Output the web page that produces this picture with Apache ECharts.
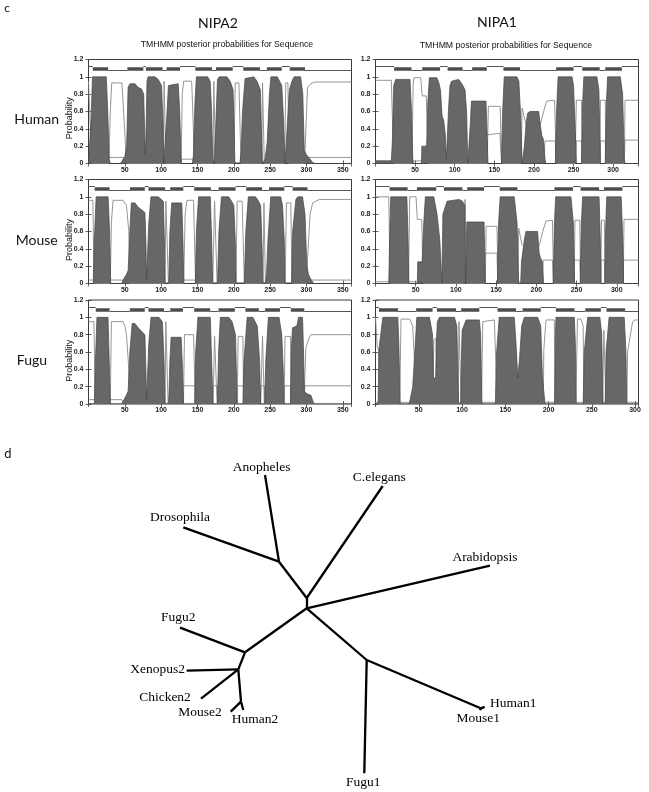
<!DOCTYPE html>
<html><head><meta charset="utf-8">
<script src="https://cdn.jsdelivr.net/npm/echarts@6/dist/echarts.min.js"></script>
<style>html,body{margin:0;padding:0;background:#fff}#c{width:649px;height:792px}</style>
</head><body><div id="c"></div>
<script>
// ---------- text ----------
const columnTitles = ['NIPA2', 'NIPA1'];
const rowLabels = ['Human', 'Mouse', 'Fugu'];
const subtitleText = 'TMHMM posterior probabilities for Sequence';
const yAxisName = 'Probability';
const panelLetters = ['c', 'd'];

// ---------- sequence lengths (x-axis extent) ----------
const nipa2Lengths = [362, 362, 362];   // human, mouse, fugu
const nipa1Lengths = [332, 327, 304];

// ---------- NIPA2 human ----------
const humanNipa2Tm = [[0,0],[2.5,0],[3.5,0.5],[5.5,1.0],[24.5,1.0],[26.5,0.6],[28.5,0.05],[30,0],
 [44,0],[50,0.08],[52.5,0.2],[54.5,0.88],[57,0.92],[64,0.92],[68,0.88],[73,0.86],[76,0.8],[77.5,0.3],[78.3,0.1],
 [79,0.3],[80.5,0.95],[82,1.0],[91.5,1.0],[96,0.97],[100.5,0.9],[102.5,0.5],[103.5,0],
 [106,0],[107.5,0.5],[110,0.9],[111,0.92],[123.5,0.92],[125.5,0.6],[127.5,0.03],[128.5,0],
 [143,0],[144.5,0.1],[146.5,0.7],[148.5,1.0],[164,1.0],[167.5,0.95],[169.5,0.6],[171,0.05],[172.5,0],
 [173.5,0],[175,0.4],[177.5,0.97],[180,1.0],[190.5,1.0],[195,0.95],[199,0.85],[200.5,0.4],[201.5,0],
 [208.5,0],[210,0.15],[212,0.6],[215.5,0.98],[217,1.0],[227.5,1.0],[232,0.95],[236.5,0.85],[238,0.4],[239.5,0],
 [240.5,0],[243,0.05],[246,0.25],[249,0.8],[251,1.0],[260,1.0],[263,0.95],[266,0.9],[268.5,0.5],[270.5,0],
 [272.5,0],[274,0.5],[276.5,0.85],[280,0.95],[283,1.0],[292,1.0],[295,0.8],[297,0.15],[300,0.1],[304,0.06],[309,0.01],[312,0],[362,0]];
const humanNipa2Upper = [[0,0.95],[2.5,0.95],[4,0.1],[5,0],[28,0],[30,0.6],[32,0.93],[46,0.93],[49,0.5],[52,0.05],[53,0],
 [103,0],[104,0.95],[105.5,0.95],[106.5,0],[127.5,0],[129,0.8],[131,0.95],[142,0.95],[144,0.5],[145.5,0],
 [171.5,0],[172.5,0.95],[174,0.95],[175,0],[200,0],[202,0.93],[207,0.93],[209,0.3],[210,0],
 [238.5,0],[239.5,0.93],[241,0.93],[242,0],[270,0],[271.5,0.93],[274.5,0.93],[276,0],
 [297.5,0],[298.5,0.25],[301.5,0.88],[306,0.92],[311,0.94],[362,0.94]];
const humanNipa2Lower = [[0,0.07],[49,0.07],[51,0.02],[127,0.02],[129,0.05],[143,0.05],[145,0.01],[298,0.01],[300,0.07],[362,0.07]];
const humanNipa2Helices = [[6,27],[53.5,75.5],[79,102],[107.5,126],[147,170],[175.5,198.5],[213,236],[245.5,266],[277,298]];

// ---------- NIPA2 mouse ----------
const mouseNipa2Tm = [[0,0],[6.5,0],[8,0.5],[10.5,1.0],[27,1.0],[29,0.6],[30.6,0],
 [46,0],[48,0.05],[52,0.1],[54.6,0.15],[56.9,0.6],[59,0.93],[64,0.93],[68.4,0.88],[73,0.85],[77.6,0.82],[79,0.5],[80,0.05],
 [81.5,0.05],[83,0.7],[86,1.0],[96,1.0],[103,0.95],[104.5,0.5],[105.4,0],
 [110.5,0],[112,0.6],[114.6,0.93],[128.4,0.93],[130,0.5],[131.2,0],
 [147,0],[148.5,0.6],[151.5,1.0],[167.7,1.0],[169.5,0.5],[171,0],
 [177.5,0],[179.5,0.6],[183,1.0],[193,1.0],[197,0.95],[200,0.9],[202,0.5],[203.2,0],
 [214.5,0],[216.5,0.6],[220,1.0],[230,1.0],[234,0.95],[237,0.9],[239,0.4],[240.2,0],
 [243.5,0],[245,0.1],[247,0.5],[250.8,1.0],[264.6,1.0],[267,0.9],[269.5,0.5],[270.6,0],
 [279.5,0],[281,0.6],[285.4,0.97],[288,1.0],[294.6,1.0],[298,0.8],[300.5,0.2],[303,0.1],[306,0.05],[310,0],[362,0]];
const mouseNipa2Upper = [[0,0.96],[6,0.96],[7.5,0.1],[8.5,0],[30,0],[31.5,0.7],[33.8,0.96],[47.6,0.96],[52.3,0.9],[55.5,0.6],[57,0],
 [105.4,0],[106.5,0.95],[108.5,0.95],[110,0],[131,0],[133,0.8],[135.4,0.96],[144.6,0.96],[146.5,0.3],[147.5,0],
 [171,0],[173.5,0.95],[175.5,0.95],[177,0],[203,0],[204.6,0.95],[211.5,0.95],[213.5,0.3],[214.5,0],
 [240.2,0],[241.5,0.93],[242.5,0.93],[243.5,0],[270.6,0],[272.5,0.93],[278.5,0.93],[280,0],
 [300.5,0],[301.6,0.3],[305,0.8],[308.5,0.93],[317.7,0.97],[362,0.97]];
const mouseNipa2Lower = [[0,0.04],[46,0.04],[48,0.01],[111,0.01],[112,0.04],[146,0.04],[148,0.01],[302,0.01],[304,0.04],[362,0.04]];
const mouseNipa2Helices = [[8.5,29],[57,77.5],[82.5,105.5],[112.5,130.5],[145.5,168.5],[179,202.5],[217,239],[248.5,269.5],[281,301.5]];

// ---------- NIPA2 fugu ----------
const fuguNipa2Tm = [[0,0],[8,0],[9.5,0.5],[11.6,1.0],[26.9,1.0],[28.5,0.5],[30.1,0],
 [46,0],[47.6,0.03],[52,0.1],[54.6,0.15],[56.9,0.6],[60.1,0.93],[63.8,0.93],[68.4,0.88],[74,0.83],[77.6,0.8],[79,0.4],[80,0.05],
 [81.5,0.05],[83,0.7],[86,1.0],[97,1.0],[101.7,0.95],[104,0.5],[105.4,0],
 [110.5,0],[112,0.5],[113.7,0.77],[127.5,0.77],[129.5,0.4],[130.7,0],
 [146,0],[147.5,0.6],[150.6,1.0],[167.7,1.0],[169.5,0.5],[171.4,0],
 [177.5,0],[179,0.6],[181.5,1.0],[193.1,1.0],[197.7,0.95],[202.3,0.8],[203.5,0.4],[204.6,0],
 [212.5,0],[214,0.5],[218.4,1.0],[226.3,1.0],[232.3,0.9],[235.5,0.5],[236.9,0],
 [242.5,0],[244,0.5],[247.6,1.0],[262.3,1.0],[266,0.8],[268,0.4],[269.2,0],
 [278,0],[279,0.6],[280.8,0.88],[286.8,0.9],[289.1,1.0],[294.6,1.0],[296,0.6],[297,0.15],[300,0.12],[306.2,0.1],[309,0.03],[310.8,0],[362,0]];
const fuguNipa2Upper = [[0,0.95],[7.5,0.95],[9,0.1],[10,0],[30,0],[31.5,0.95],[47.6,0.95],[50,0.9],[52.3,0.8],[55.5,0.4],[57,0],
 [105.4,0],[106.5,0.95],[108,0.95],[109.5,0],[130.7,0],[132.1,0.8],[144.6,0.8],[146.5,0.2],[147.5,0],
 [171.4,0],[173.5,0.78],[175.5,0.78],[177,0],[204.6,0],[206,0.78],[212.5,0.78],[213.5,0],
 [236.9,0],[239.5,0.78],[241,0.78],[242,0],[269.2,0],[270.5,0.78],[278,0.78],[279,0],
 [297,0.15],[299.3,0.65],[303,0.75],[306.2,0.8],[362,0.8]];
const fuguNipa2Lower = [[0,0.05],[46,0.05],[48,0.01],[110,0.01],[112.3,0.21],[146.9,0.21],[148,0.01],[170,0.01],[171.4,0.21],[177.5,0.21],[178.5,0.01],
 [204,0.01],[205,0.21],[213,0.21],[214,0.01],[236.5,0.01],[237.5,0.21],[242,0.21],[243,0.01],[269,0.01],[270,0.21],[278,0.21],[279,0.01],[296,0.01],[298,0.21],[362,0.21]];
const fuguNipa2Helices = [[10,29],[57,77.5],[82.5,104],[112.5,130],[145.5,167.5],[179,201.5],[216,234.5],[243,263.5],[278.5,297]];

// ---------- NIPA1 human ----------
const humanNipa1Tm = [[0,0.03],[20,0.03],[21.5,0.3],[23,0.9],[25.5,0.97],[43.5,0.97],[45.5,0.6],[47,0.05],[48,0],
 [58,0],[58.5,0.2],[64.5,0.2],[66,0.7],[68,0.99],[77.5,0.99],[80,0.93],[82,0.85],[84,0.55],[86,0.5],[88,0.35],[89.5,0.05],
 [90.5,0.05],[92,0.6],[94,0.9],[96,0.95],[105,0.97],[109,0.92],[113,0.85],[115,0.6],[116.5,0],
 [119,0],[120,0.5],[121,0.72],[139.5,0.72],[141,0.3],[142,0],
 [159,0],[160.5,0.6],[162.5,1.0],[178.5,1.0],[181,0.95],[183.5,0.5],[185,0],
 [186.5,0],[188,0.2],[190,0.45],[192,0.58],[195,0.6],[206,0.6],[208,0.45],[210,0.32],[212,0.28],[214,0.05],[215,0],
 [227,0],[228.5,0.6],[230.5,1.0],[248,1.0],[250,0.9],[252.5,0.3],[253.5,0],
 [260,0],[261.5,0.7],[263,1.0],[279.5,1.0],[282,0.85],[284,0],
 [290,0],[291.5,0.7],[293,1.0],[309,1.0],[312,0.8],[314,0.05],[315,0],[332,0]];
const humanNipa1Upper = [[0,0.96],[20,0.96],[22,0.3],[23.5,0],[46,0],[47.5,0.9],[48.5,0.99],[57,0.99],[59,0.78],[64,0.78],[66,0.2],[67,0],
 [141,0],[142.5,0.66],[157.4,0.66],[159,0.1],[160,0],[184,0],[185,0.64],[187.5,0.64],[190,0.45],[192,0.41],[205,0.41],[208,0.45],[212.2,0.6],[216,0.72],[218.5,0.73],[226,0.73],[228,0.1],[229,0],
 [252,0],[253.5,0.73],[260,0.73],[261,0],[283,0],[284,0.73],[290,0.73],[291,0],[314,0],[315,0.73],[332,0.73]];
const humanNipa1Lower = [[0,0.03],[119,0.03],[120,0.28],[141,0.33],[142.5,0.35],[157,0.35],[159,0.02],[212,0.02],[214,0.26],[227,0.26],[228,0.02],
 [253,0.02],[253.5,0.26],[260,0.26],[261,0.02],[283.5,0.02],[284,0.26],[290,0.26],[291,0.02],[314,0.02],[315,0.27],[332,0.27]];
const humanNipa1Helices = [[23.5,45.5],[59,81.5],[91,110],[122,140.5],[161.5,182.5],[228,250],[261,283],[290,311]];

// ---------- NIPA1 mouse ----------
const mouseNipa1Tm = [[0,0],[16.5,0],[17.5,0.5],[19,1.0],[39,1.0],[40.5,0.5],[41.5,0],
 [52,0],[52.5,0.25],[58,0.25],[60,0.7],[62,1.0],[72.5,1.0],[76.5,0.8],[80,0.5],[82.5,0],
 [83,0],[83.8,0.8],[89,0.95],[91,0.97],[104,0.97],[108,0.95],[111,0.9],[112,0],
 [112.5,0],[113.5,0.71],[135,0.71],[136.5,0],
 [151.5,0],[153,0.7],[155,1.0],[172.5,1.0],[176,0.7],[178,0],
 [180.5,0],[181.5,0.25],[185,0.5],[187,0.6],[201.5,0.6],[203.5,0.35],[205,0.3],[207.5,0.25],[209,0],
 [221,0],[222.5,0.7],[224,1.0],[243,1.0],[246,0.7],[247.5,0],
 [254.5,0],[256,0.7],[257.5,1.0],[278,1.0],[279.5,0.5],[280.5,0],
 [285,0],[286,0.6],[287.5,1.0],[305.5,1.0],[307.5,0.5],[308.5,0],[327,0]];
const mouseNipa1Upper = [[0,1.0],[16.5,1.0],[18,0.1],[19,0],[41,0],[42.5,1.0],[50.4,1.0],[52,0.74],[57.5,0.74],[59,0.1],[60,0],
 [110.5,0],[111.3,0.97],[112.2,0.5],[113,0],[136.5,0],[137.5,0.66],[151,0.66],[152.5,0],
 [177,0],[178,0.64],[180,0.64],[182,0.45],[187,0.4],[201.5,0.4],[204,0.45],[207.9,0.6],[212,0.72],[220,0.73],[221.5,0],
 [247,0],[248,0.73],[254,0.73],[255,0],[280,0],[281,0.73],[284.5,0.73],[285.5,0],[308,0],[309,0.74],[327,0.74]];
const mouseNipa1Lower = [[0,0.02],[136,0.02],[136.5,0.35],[151,0.35],[152,0.02],[207.5,0.02],[208.5,0.27],[220,0.27],[221,0.02],
 [247,0.02],[247.5,0.27],[254,0.27],[255,0.02],[280,0.02],[280.5,0.27],[284.5,0.27],[285.5,0.02],[308,0.02],[308.5,0.27],[327,0.27]];
const mouseNipa1Helices = [[17.5,40],[51.5,75.5],[85,108],[114,135],[154.5,176.5],[222.5,245.5],[255,278],[284,307]];

// ---------- NIPA1 fugu ----------
const fuguNipa1Tm = [[0,0],[3,0],[3.9,0.62],[6,0.8],[8.5,1.0],[25.8,1.0],[27,0.7],[28.5,0],
 [39,0],[40,0.05],[43,0.2],[45.5,0.6],[47.7,1.0],[62.4,1.0],[66,0.8],[67,0.3],[69.5,0.3],[70.3,0.7],
 [71.5,0.95],[73.9,1.0],[91.2,1.0],[94,0.9],[96,0],
 [98.5,0],[99.5,0.6],[100.1,0.85],[104.7,0.97],[120.1,0.97],[121.5,0.8],[123,0],
 [138.5,0],[140,0.6],[143,1.0],[160.5,1.0],[163,0.6],[164.4,0.3],[165.3,0.3],
 [166.3,0.5],[169,0.9],[172,1.0],[187.5,1.0],[191,0.9],[193,0.3],[195,0.3],[196,0],
 [207,0],[208,0.8],[208.6,1.0],[229.8,1.0],[231,0.7],[232,0],
 [240,0],[241.3,0.6],[245.2,1.0],[259.4,1.0],[261.5,0.8],[263,0],
 [265.5,0],[266.5,0.6],[270,1.0],[287.5,1.0],[289.5,0.6],[290.5,0],[304,0]];
const fuguNipa1Upper = [[0,1.0],[1.9,0.66],[3.9,0.62],[5,0.1],[6,0],[28,0],[29.5,0.98],[39.5,0.98],[43,0.9],[46,0.3],[47,0],
 [66,0.05],[67.5,0.74],[70,0.76],[71,0.2],[72,0],[95.5,0],[96.5,0.95],[97.5,0.95],[98.5,0.2],[99,0],
 [122.5,0],[124,0.95],[126,0.97],[137.4,0.97],[139,0.5],[140,0],[194,0],[194.5,0.62],[197.1,0.97],[206.7,0.97],[207.5,0],
 [231.5,0],[233.5,0.98],[237.5,0.98],[240,0.9],[241,0],[262.5,0],[264,0.85],[265.5,0.85],[266.3,0],
 [290.5,0],[291.4,0.6],[297.2,0.95],[300,0.97],[304,0.97]];
const fuguNipa1Lower = [[0,0.02],[304,0.02]];
const fuguNipa1Helices = [[4,26],[47,66],[71,93],[99,120],[141,162.5],[170,191],[208.5,230],[242.5,260.5],[267,288.5]];

// ---------- tree (unrooted, branch-length units) ----------
const treeNodes = [['root',0,0],['n1',0,1.03],['n2',-2.77,4.66],['Anopheles',-4.17,13.33],['Drosophila',-12.34,8.1],
 ['C.elegans',7.6,12.23],['Arabidopsis',18.33,4.26],['n3',-6.17,-4.4],['Fugu2',-12.67,-1.94],['n4',-6.84,-6.1],
 ['Xenopus2',-12.0,-6.24],['Chicken2',-10.57,-9.04],['n5',-6.57,-9.34],['Human2',-6.34,-10.17],['Mouse2',-7.6,-10.34],
 ['n6',6.0,-5.17],['Fugu1',5.76,-16.5],['n7',17.4,-10.0],['Human1',17.8,-9.85],['Mouse1',17.35,-10.2]];
const treeEdges = [['root','n1'],['n1','n2'],['n2','Anopheles'],['n2','Drosophila'],['n1','C.elegans'],['root','Arabidopsis'],
 ['root','n3'],['n3','Fugu2'],['n3','n4'],['n4','Xenopus2'],['n4','Chicken2'],['n4','n5'],['n5','Human2'],['n5','Mouse2'],
 ['root','n6'],['n6','Fugu1'],['n6','n7'],['n7','Human1'],['n7','Mouse1']];
const treeLabels = [['Anopheles',-4.5,14.1],['Drosophila',-12.67,9.1],['C.elegans',7.26,13.1],['Arabidopsis',17.83,5.06],
 ['Fugu2',-12.84,-0.94],['Xenopus2',-14.9,-6.1],['Chicken2',-14.17,-8.9],['Mouse2',-10.67,-10.44],['Human2',-5.17,-11.1],
 ['Fugu1',5.66,-17.44],['Human1',20.66,-9.5],['Mouse1',17.16,-11.0]];

// ---------- build ----------
const plots = [
 {col:0,row:0,max:nipa2Lengths[0],tm:humanNipa2Tm,up:humanNipa2Upper,low:humanNipa2Lower,hel:humanNipa2Helices},
 {col:0,row:1,max:nipa2Lengths[1],tm:mouseNipa2Tm,up:mouseNipa2Upper,low:mouseNipa2Lower,hel:mouseNipa2Helices},
 {col:0,row:2,max:nipa2Lengths[2],tm:fuguNipa2Tm,up:fuguNipa2Upper,low:fuguNipa2Lower,hel:fuguNipa2Helices},
 {col:1,row:0,max:nipa1Lengths[0],tm:humanNipa1Tm,up:humanNipa1Upper,low:humanNipa1Lower,hel:humanNipa1Helices},
 {col:1,row:1,max:nipa1Lengths[1],tm:mouseNipa1Tm,up:mouseNipa1Upper,low:mouseNipa1Lower,hel:mouseNipa1Helices},
 {col:1,row:2,max:nipa1Lengths[2],tm:fuguNipa1Tm,up:fuguNipa1Upper,low:fuguNipa1Lower,hel:fuguNipa1Helices}
];
const colLeft = [88.5, 375.5], colWidth = 263, rowTop = [59.5, 179.5, 300], rowHeight = 104;
const tickFont = {fontSize:7, fontFamily:'Liberation Sans', fontWeight:'bold', color:'#222'};
const frameColor = '#3a3a3a';

const grid = [], xAxis = [], yAxis = [], series = [];
plots.forEach((p, i) => {
  grid.push({left:colLeft[p.col], top:rowTop[p.row], width:colWidth, height:rowHeight,
    show:true, borderColor:frameColor, borderWidth:1, backgroundColor:'transparent'});
  const tick = {show:true, inside:true, length:3, lineStyle:{color:frameColor, width:0.8}};
  xAxis.push({gridIndex:i, type:'value', min:0, max:p.max, interval:50, position:'bottom',
    axisLine:{show:false}, axisTick:tick, splitLine:{show:false},
    axisLabel:Object.assign({margin:3, showMinLabel:false, showMaxLabel:false}, tickFont)});
  xAxis.push({gridIndex:i, type:'value', min:0, max:p.max, interval:50, position:'top',
    axisLine:{show:false}, axisTick:tick, splitLine:{show:false}, axisLabel:{show:false}});
  yAxis.push({gridIndex:i, type:'value', min:0, max:1.2, interval:0.2, position:'left',
    axisLine:{show:false}, axisTick:tick, splitLine:{show:false},
    axisLabel:Object.assign({margin:5}, tickFont)});
  yAxis.push({gridIndex:i, type:'value', min:0, max:1.2, interval:0.2, position:'right',
    axisLine:{show:false}, axisTick:tick, splitLine:{show:false}, axisLabel:{show:false}});
  const xi = 2*i, yi = 2*i;
  const thin = {color:'#8a8a8a', width:0.9};
  series.push({type:'line', xAxisIndex:xi, yAxisIndex:yi, data:p.up, showSymbol:false, silent:true, lineStyle:thin, z:1});
  series.push({type:'line', xAxisIndex:xi, yAxisIndex:yi, data:p.low, showSymbol:false, silent:true, lineStyle:thin, z:1});
  series.push({type:'line', xAxisIndex:xi, yAxisIndex:yi, data:p.tm, showSymbol:false, silent:true, z:2,
    lineStyle:{color:'#454545', width:0.7}, areaStyle:{color:'#676767', opacity:1}});
  // topology line (alternating outside / inside between helices)
  const topo = []; let side = 'out', prev = 0;
  p.hel.forEach(h => { const lv = side === 'out' ? 1.118 : 1.072;
    topo.push({coords:[[prev, lv],[h[0], lv]]}); side = side === 'out' ? 'in' : 'out'; prev = h[1]; });
  const lvEnd = side === 'out' ? 1.118 : 1.072;
  topo.push({coords:[[prev, lvEnd],[p.max, lvEnd]]});
  series.push({type:'lines', coordinateSystem:'cartesian2d', xAxisIndex:xi, yAxisIndex:yi, data:topo, silent:true,
    lineStyle:{color:'#555', width:1, opacity:1}, z:3});
  series.push({type:'lines', coordinateSystem:'cartesian2d', xAxisIndex:xi, yAxisIndex:yi, silent:true,
    data:p.hel.map(h => ({coords:[[h[0],1.092],[h[1],1.092]]})),
    lineStyle:{color:'#4d4d4d', width:3.5, opacity:1, cap:'butt'}, z:4});
});

// tree grid
const ti = plots.length;
grid.push({left:0, top:440, width:649, height:352, show:false});
xAxis.push({gridIndex:ti, type:'value', min:-30.67, max:34.23, show:false});
yAxis.push({gridIndex:ti, type:'value', min:-18.37, max:16.83, show:false});
series.push({type:'graph', coordinateSystem:'cartesian2d', xAxisIndex:2*ti, yAxisIndex:2*ti, silent:true,
  symbolSize:0, label:{show:false}, emphasis:{disabled:true},
  data:treeNodes.map(n => ({name:n[0], value:[n[1], n[2]]})),
  links:treeEdges.map(e => ({source:e[0], target:e[1]})),
  lineStyle:{color:'#000', width:2.3, opacity:1, curveness:0}});
series.push({type:'scatter', xAxisIndex:2*ti, yAxisIndex:2*ti, silent:true, symbolSize:0.01,
  itemStyle:{color:'#000', opacity:1}, emphasis:{disabled:true},
  data:treeLabels.map(l => [l[1], l[2], l[0]]),
  label:{show:true, position:'inside', formatter:q => q.value[2], fontFamily:'Liberation Serif', fontSize:13.5,
    color:'#000', opacity:1, textBorderWidth:0}});

const graphic = [];
const txt = (x, y, text, font, extra) => graphic.push(Object.assign({type:'text', x, y, silent:true,
  style:{text, font, fill:'#111', align:'center', verticalAlign:'middle'}}, extra || {}));
txt(7, 8, panelLetters[0], '12px Lato');
txt(8, 454, panelLetters[1], '13px Lato');
txt(218, 23, columnTitles[0], '14px Lato');
txt(497, 22, columnTitles[1], '14px Lato');
txt(227, 44.5, subtitleText, '8.7px "Liberation Sans"');
txt(506, 46, subtitleText, '8.7px "Liberation Sans"');
const rowLabelPos = [[36.7,119.3],[36.7,240],[32,360.7]];
const probY = [118.3, 240, 360.7];
rowLabels.forEach((r, k) => {
  txt(rowLabelPos[k][0], rowLabelPos[k][1], r, '14px Lato');
  txt(70, probY[k], yAxisName, '9px "Liberation Sans"', {rotation:Math.PI/2});
});

const chart = echarts.init(document.getElementById('c'), null, {renderer:'canvas'});
chart.setOption({animation:false, backgroundColor:'#fff', grid, xAxis, yAxis, series, graphic});
</script></body></html>
